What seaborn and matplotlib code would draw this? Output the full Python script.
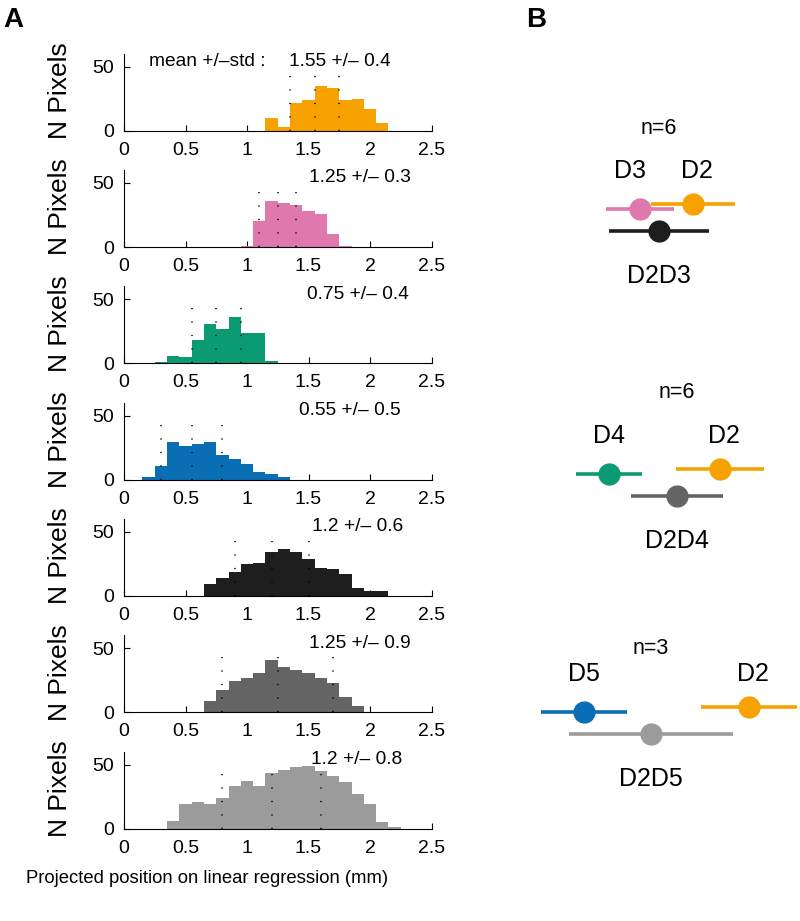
import numpy as np
import pandas as pd
import seaborn as sns
import matplotlib.pyplot as plt

sns.set_style("ticks")
plt.rcParams['font.family'] = ['Liberation Sans', 'DejaVu Sans']
plt.rcParams['text.color'] = 'black'
plt.rcParams['axes.labelcolor'] = 'black'

# ---- panel A data: histogram counts per 0.1 mm bin ----
first_center = [1.2, 1.0, 0.3, 0.2, 0.7, 0.7, 0.4]
counts = [
    [10, 3, 22, 24, 35, 33, 24, 25, 17, 6],
    [1, 20, 36, 34, 33, 28, 26, 10, 1],
    [1, 6, 5, 18, 31, 27, 36, 24, 24, 2],
    [2, 11, 29, 26, 28, 29, 19, 16, 12, 6, 4, 2],
    [9, 14, 19, 25, 26, 34, 37, 34, 29, 22, 21, 17, 6, 4, 4],
    [9, 17, 24, 27, 31, 41, 35, 33, 31, 27, 23, 12, 5],
    [6, 19, 21, 19, 24, 33, 37, 33, 43, 46, 48, 49, 45, 41, 36, 27, 19, 5, 1],
]
means = [1.55, 1.25, 0.75, 0.55, 1.2, 1.25, 1.2]
stds = [0.4, 0.3, 0.4, 0.5, 0.6, 0.9, 0.8]
colors = ['#F7A200', '#DF78AD', '#0B9B72', '#0A6EB4', '#1E1E1E', '#646464', '#9B9B9B']
text_x = [1.34, 1.5, 1.49, 1.42, 1.53, 1.5, 1.52]
xticks = [0, 0.5, 1, 1.5, 2, 2.5]
xtick_labels = ['0', '0.5', '1', '1.5', '2', '2.5']

# ---- panel B data: mean position +/- error ----
b_groups = ['n=6', 'n=6', 'n=3']
b_single = ['D3', 'D4', 'D5']
b_combo = ['D2D3', 'D2D4', 'D2D5']
b_single_mean = [0.60, 0.445, 0.32]
b_single_err = [0.17, 0.165, 0.215]
b_d2_mean = [0.865, 1.0, 1.145]
b_d2_err = [0.21, 0.222, 0.24]
b_combo_mean = [0.695, 0.785, 0.655]
b_combo_err = [0.25, 0.228, 0.41]
b_single_color = ['#DF78AD', '#0B9B72', '#0A6EB4']
b_combo_color = ['#1E1E1E', '#646464', '#9B9B9B']
d2_color = '#F7A200'

W, H = 800, 921
fig = plt.figure(figsize=(W / 100, H / 100), dpi=100)

for k in range(7):
    base = 130.7 + 116.3 * k
    ax = fig.add_axes([124 / W, 1 - base / H, 307.5 / W, 76.8 / H])
    n = len(counts[k])
    df = pd.DataFrame({'pos': np.round(first_center[k] + 0.1 * np.arange(n), 2),
                       'n': np.asarray(counts[k], dtype=float)})
    edges = list(np.round(np.arange(n + 1) * 0.1 + first_center[k] - 0.05, 3))
    sns.histplot(data=df, x='pos', weights='n', bins=edges, ax=ax,
                 color=colors[k], alpha=1, linewidth=0, edgecolor='none')
    m, s = means[k], stds[k]
    ax.vlines([m - s / 2, m, m + s / 2], 0, 50, colors='black',
              linestyles=(0, (0.8, 8)), linewidth=1.1)
    ax.text(text_x[k], 54, f"{m:g} +/\u2013 {s:g}", fontsize=13.8, va='center', ha='left')
    if k == 0:
        ax.text(0.2, 54, "mean +/\u2013std :", fontsize=13.8, va='center', ha='left')
    ax.set_xlim(0, 2.5)
    ax.set_ylim(0, 60)
    ax.set_xticks(xticks)
    ax.set_xticklabels(xtick_labels)
    ax.set_yticks([0, 50])
    ax.set_yticklabels(['0', '50'])
    ax.tick_params(direction='in', length=4, width=0.8, labelsize=14, colors='black')
    ax.tick_params(axis='x', pad=8)
    ax.tick_params(axis='y', pad=7)
    ax.set_xlabel('')
    ax.set_ylabel('N Pixels', fontsize=19)
    ax.yaxis.set_label_coords(-0.168, 0.52)
    sns.despine(ax=ax)
    for sp in ['left', 'bottom']:
        ax.spines[sp].set_linewidth(0.8)
        ax.spines[sp].set_color('black')

fig.text(207 / W, 1 - 878 / H, 'Projected position on linear regression (mm)',
         fontsize=13.3, ha='center', va='center')
fig.text(3 / W, 1 - 20 / H, 'A', fontsize=20, fontweight='bold', va='center')
fig.text(526 / W, 1 - 20 / H, 'B', fontsize=20, fontweight='bold', va='center')

# ---- panel B ----
axb = fig.add_axes([520 / W, 0, 280 / W, 1])
axb.set_xlim(0, 1.4)
axb.set_ylim(H, 0)
axb.axis('off')
row_y = [204, 469, 707]
n_y = [128, 392, 648]
for g in range(3):
    y0 = row_y[g]
    axb.errorbar(b_single_mean[g], y0 + 5, xerr=b_single_err[g], fmt='o', ms=15,
                 color=b_single_color[g], lw=2.6, capsize=0)
    axb.errorbar(b_d2_mean[g], y0, xerr=b_d2_err[g], fmt='o', ms=15,
                 color=d2_color, lw=2.6, capsize=0, clip_on=False)
    axb.errorbar(b_combo_mean[g], y0 + 27, xerr=b_combo_err[g], fmt='o', ms=15,
                 color=b_combo_color[g], lw=2.6, capsize=0)
    axb.text(b_single_mean[g] - (0.05 if g == 0 else 0), y0 - 33, b_single[g],
             fontsize=18, ha='center', va='center')
    axb.text(b_d2_mean[g] + 0.02, y0 - 33, 'D2', fontsize=18, ha='center', va='center')
    axb.text(b_combo_mean[g], y0 + 72, b_combo[g], fontsize=18, ha='center', va='center')
    axb.text(b_combo_mean[g], n_y[g], b_groups[g], fontsize=15.5, ha='center', va='center')

fig.savefig('out.png', dpi=100)
